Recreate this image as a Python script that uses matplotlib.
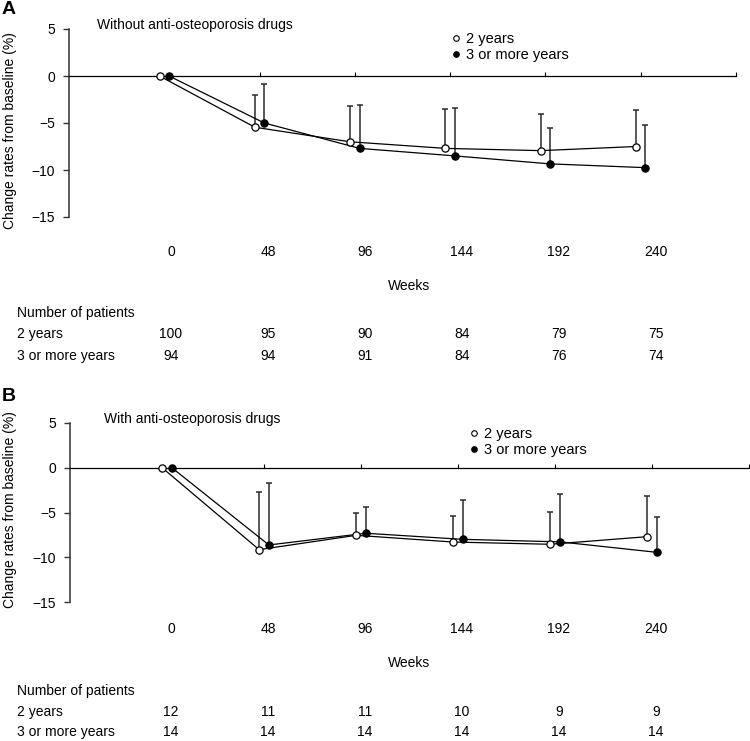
#!/usr/bin/env python3
import matplotlib
matplotlib.use('Agg')
import matplotlib.pyplot as plt
import matplotlib.transforms as mtransforms
from matplotlib.lines import Line2D
import numpy as np

plt.rcParams['font.family'] = ['Liberation Sans', 'DejaVu Sans']
plt.rcParams['font.size'] = 10

################################################
# Data
################################################

weeks = ['0', '48', '96', '144', '192', '240']
groups = ['2 years', '3 or more years']

# Panel A - without anti-osteoporosis drugs
a_2y = [0, -5.45, -7.0, -7.7, -7.94, -7.5]
a_3y = [0, -5.0, -7.7, -8.5, -9.35, -9.75]
a_2y_sd = [0, 3.46, 3.83, 4.2, 3.86, 3.85]
a_3y_sd = [0, 4.15, 4.62, 5.06, 3.85, 4.57]
a_n_2y = [100, 95, 90, 84, 79, 75]
a_n_3y = [94, 94, 91, 84, 76, 74]

# Panel B - with anti-osteoporosis drugs
b_2y = [0, -9.15, -7.55, -8.3, -8.55, -7.7]
b_3y = [0, -8.63, -7.32, -8.0, -8.28, -9.45]
b_2y_sd = [0, 6.48, 2.55, 2.95, 3.62, 4.59]
b_3y_sd = [0, 6.89, 2.9, 4.4, 5.39, 3.97]
b_n_2y = [12, 11, 11, 10, 9, 9]
b_n_3y = [14, 14, 14, 14, 14, 14]

################################################

W, H = 750, 741
fig = plt.figure(figsize=(W / 100, H / 100), dpi=100)


def fy(y):
    return 1 - y / H


axA = fig.add_axes([69 / W, fy(217), 667 / W, 188 / H])
axB = fig.add_axes([70 / W, fy(602), 679 / W, 179 / H])

# texts under the panels use B's x scale (same column layout in both)
col = mtransforms.blended_transform_factory(axB.transData, fig.transFigure)


def panel(ax, v2, v3, sd2, sd3):
    x = np.arange(len(weeks))
    off = 0.05
    for xs, v, sd, face in [(x - off, v2, sd2, 'white'), (x + off, v3, sd3, 'black')]:
        v = np.array(v)
        sd = np.array(sd)
        ax.errorbar(xs[1:], v[1:], yerr=[np.zeros(len(v) - 1), sd[1:]], fmt='none',
                    ecolor='#2b2b2b', elinewidth=1.1, capsize=2.3, capthick=1.1, zorder=2)
        ax.plot(xs, v, '-', color='black', lw=0.9, zorder=3)
        ax.plot(xs, v, 'o', ms=5.2, mfc=face, mec='black', mew=0.9, zorder=4)

    ax.set_xlim(-1, 6)
    ax.set_ylim(-15, 5)
    ax.set_yticks([-15, -10, -5, 0, 5])
    ax.spines['top'].set_visible(False)
    ax.spines['right'].set_visible(False)
    ax.spines['left'].set_color('#333333')
    ax.spines['left'].set_linewidth(1.1)
    ax.spines['bottom'].set_position(('data', 0))
    ax.spines['bottom'].set_linewidth(0.9)
    ax.set_xticks(np.arange(1, 7))
    ax.tick_params(axis='x', direction='in', length=3, labelbottom=False)
    ax.tick_params(axis='y', direction='out', length=4, width=1, color='#333333',
                   labelsize=10, pad=6)
    ax.set_ylabel('Change rates from baseline (%)', fontsize=10)

    proxies = [Line2D([], [], ls='none', marker='o', ms=4, mfc='white', mec='black', mew=0.8),
               Line2D([], [], ls='none', marker='o', ms=4, mfc='black', mec='black', mew=0.8)]
    return proxies


def bottom_table(n2, n3, y_tick, y_weeks, y_rows):
    for i, w in enumerate(weeks):
        fig.text(i + 0.04, fy(y_tick), w, transform=col, ha='center', va='center')
        fig.text(i + 0.04, fy(y_rows[1]), str(n2[i]), transform=col, ha='center', va='center')
        fig.text(i + 0.04, fy(y_rows[2]), str(n3[i]), transform=col, ha='center', va='center')
    fig.text(2.5, fy(y_weeks), 'Weeks', transform=col, ha='center', va='center')
    fig.text(17 / W, fy(y_rows[0]), 'Number of patients', ha='left', va='center')
    fig.text(17 / W, fy(y_rows[1]), groups[0], ha='left', va='center')
    fig.text(17 / W, fy(y_rows[2]), groups[1], ha='left', va='center')


# Panel A
hA = panel(axA, a_2y, a_3y, a_2y_sd, a_3y_sd)
axA.yaxis.set_label_coords((17 - 69) / 667, (217 - 131) / 188)
fig.text(2 / W, fy(9), 'A', fontsize=14, fontweight='bold', ha='left', va='center')
fig.text(97 / W, fy(25), 'Without anti-osteoporosis drugs', ha='left', va='center')
fig.legend(hA, groups, loc='upper left', bbox_to_anchor=(452 / W, fy(32)), frameon=False,
           handlelength=0.6, handletextpad=0.35, labelspacing=0.15, borderpad=0,
           borderaxespad=0, fontsize=10.5)
bottom_table(a_n_2y, a_n_3y, 252, 286, [313, 334, 356])

# Panel B
hB = panel(axB, b_2y, b_3y, b_2y_sd, b_3y_sd)
axB.yaxis.set_label_coords((17 - 70) / 679, (602 - 510) / 179)
fig.text(2 / W, fy(397), 'B', fontsize=14, fontweight='bold', ha='left', va='center')
fig.text(104 / W, fy(419), 'With anti-osteoporosis drugs', ha='left', va='center')
fig.legend(hB, groups, loc='upper left', bbox_to_anchor=(470 / W, fy(427)), frameon=False,
           handlelength=0.6, handletextpad=0.35, labelspacing=0.15, borderpad=0,
           borderaxespad=0, fontsize=10.5)
bottom_table(b_n_2y, b_n_3y, 629, 663, [691, 712, 732])

plt.savefig('out.png', dpi=100)
print("Saved to out.png")
